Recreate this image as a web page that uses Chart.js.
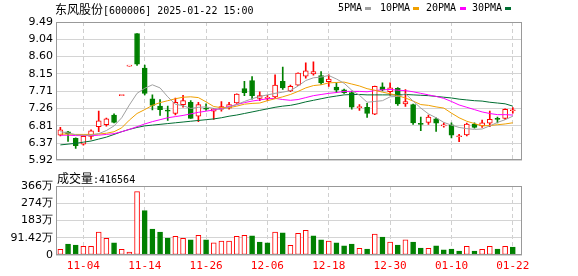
<!DOCTYPE html>
<html>
<head>
<meta charset="utf-8">
<script src="https://cdn.jsdelivr.net/npm/chart.js@4.4.1/dist/chart.umd.min.js"></script>
<style>
body { margin: 0; background: #fff; width: 578px; height: 276px; position: relative; overflow: hidden; }
#kline { position: absolute; left: 0; top: 0; }
#vol { position: absolute; left: 0; top: 170px; }
.t { position: absolute; white-space: nowrap; color: #000; display: flex; align-items: baseline; }
.cjk { font: 12px "Noto Sans CJK SC"; }
.asc { font: 10px "DejaVu Sans Mono"; }
.sw { position: absolute; width: 6px; height: 3px; }
</style>
</head>
<body>
<canvas id="kline" width="578" height="170"></canvas>
<canvas id="vol" width="578" height="106"></canvas>

<div class="t" style="left:55px;top:0px"><span class="cjk">东风股份</span><span class="asc">[600006] 2025-01-22 15:00</span></div>
<div class="t" style="left:338px;top:2px"><span class="asc">5PMA</span></div>
<div class="sw" style="left:365px;top:7px;background:#a0a0a0"></div>
<div class="t" style="left:380px;top:2px"><span class="asc">10PMA</span></div>
<div class="sw" style="left:413px;top:7px;background:#f0a000"></div>
<div class="t" style="left:426px;top:2px"><span class="asc">20PMA</span></div>
<div class="sw" style="left:460px;top:7px;background:#ff00ff"></div>
<div class="t" style="left:472px;top:2px"><span class="asc">30PMA</span></div>
<div class="sw" style="left:505px;top:7px;background:#006e32"></div>
<div class="t" style="left:57px;top:169px"><span class="cjk">成交量</span><span class="asc">:416564</span></div>

<script>
// 交易日 (2024-10-30 ~ 2025-01-22)
const dates = ['10-30','10-31','11-01','11-04','11-05','11-06','11-07','11-08','11-11','11-12',
  '11-13','11-14','11-15','11-18','11-19','11-20','11-21','11-22','11-25','11-26',
  '11-27','11-28','11-29','12-02','12-03','12-04','12-05','12-06','12-09','12-10',
  '12-11','12-12','12-13','12-16','12-17','12-18','12-19','12-20','12-23','12-24',
  '12-25','12-26','12-27','12-30','12-31','01-02','01-03','01-06','01-07','01-08',
  '01-09','01-10','01-13','01-14','01-15','01-16','01-17','01-20','01-21','01-22'];

const open  = [6.57,6.66,6.49,6.34,6.54,6.79,6.84,7.09,7.59,8.35,9.19,8.30,7.51,7.32,7.20,7.13,7.36,7.42,7.06,7.25,
               7.19,7.24,7.27,7.40,7.77,7.98,7.52,7.52,7.56,7.96,7.71,7.86,8.09,8.15,8.11,7.95,7.81,7.74,7.67,7.28,
               7.29,7.11,7.82,7.69,7.78,7.38,7.36,6.86,6.90,6.99,6.81,6.84,6.53,6.58,6.85,6.81,6.88,6.99,7.00,7.20];
const high  = [6.77,6.67,6.50,6.56,6.71,7.19,7.01,7.12,7.59,8.35,9.19,8.38,7.61,7.49,7.32,7.53,7.60,7.46,7.42,7.38,
               7.26,7.44,7.42,7.64,7.96,8.08,7.69,7.60,8.13,8.33,7.86,8.18,8.44,8.46,8.21,8.13,7.92,7.76,7.71,7.36,
               7.39,7.84,7.92,7.92,7.80,7.75,7.37,7.04,7.09,7.02,6.89,6.89,6.59,6.88,6.89,6.96,7.19,7.04,7.25,7.28];
const low   = [6.55,6.41,6.23,6.31,6.47,6.66,6.80,6.89,7.59,8.35,8.37,7.61,7.22,7.08,6.95,7.09,7.29,7.00,6.92,7.21,
               6.98,7.19,7.24,7.39,7.59,7.50,7.46,7.47,7.54,7.75,7.69,7.85,8.04,8.12,7.88,7.83,7.67,7.65,7.24,7.21,
               7.03,7.10,7.71,7.60,7.34,7.31,6.85,6.69,6.85,6.67,6.78,6.50,6.40,6.55,6.75,6.77,6.79,6.89,6.98,7.14];
const close = [6.71,6.60,6.30,6.54,6.68,6.94,6.99,6.90,7.59,8.35,8.40,7.65,7.34,7.23,7.19,7.42,7.46,7.00,7.36,7.24,
               7.25,7.31,7.36,7.63,7.67,7.59,7.59,7.55,7.86,7.79,7.83,8.17,8.23,8.21,7.92,8.02,7.73,7.67,7.29,7.30,
               7.13,7.83,7.74,7.79,7.38,7.44,6.89,6.85,7.04,6.88,6.83,6.57,6.55,6.86,6.77,6.89,6.98,6.98,7.24,7.22];

const ma5  = [6.66,6.63,6.58,6.57,6.57,6.61,6.69,6.81,7.02,7.35,7.65,7.78,7.87,7.79,7.56,7.37,7.33,7.26,7.29,7.30,
              7.26,7.23,7.30,7.36,7.44,7.51,7.57,7.61,7.65,7.68,7.72,7.84,7.98,8.05,8.07,8.11,8.02,7.91,7.73,7.60,
              7.42,7.44,7.46,7.56,7.57,7.64,7.45,7.27,7.12,7.02,6.90,6.83,6.77,6.74,6.72,6.73,6.81,6.90,6.97,7.06];
const ma10 = [6.60,6.60,6.59,6.59,6.59,6.60,6.62,6.66,6.76,6.96,7.13,7.23,7.34,7.41,7.46,7.51,7.55,7.56,7.54,7.43,
              7.31,7.28,7.28,7.32,7.37,7.39,7.40,7.46,7.51,7.56,7.62,7.70,7.79,7.85,7.87,7.92,7.93,7.94,7.89,7.84,
              7.77,7.73,7.68,7.64,7.59,7.53,7.45,7.36,7.34,7.30,7.27,7.14,7.02,6.93,6.87,6.81,6.82,6.84,6.86,6.89];
const ma20 = [6.57,6.57,6.56,6.56,6.56,6.57,6.59,6.61,6.66,6.72,6.79,6.86,6.92,6.97,7.02,7.05,7.08,7.12,7.16,7.19,
              7.22,7.26,7.31,7.36,7.41,7.45,7.48,7.51,7.52,7.49,7.47,7.49,7.54,7.59,7.62,7.65,7.67,7.70,7.70,7.70,
              7.69,7.72,7.74,7.75,7.73,7.72,7.69,7.65,7.61,7.57,7.52,7.44,7.35,7.29,7.23,7.17,7.13,7.10,7.10,7.09];
const ma30 = [6.32,6.34,6.36,6.39,6.42,6.47,6.52,6.59,6.66,6.72,6.77,6.81,6.83,6.85,6.87,6.89,6.91,6.93,6.95,6.97,
              6.99,7.02,7.06,7.09,7.13,7.17,7.21,7.25,7.29,7.32,7.34,7.38,7.43,7.47,7.51,7.55,7.58,7.61,7.62,7.62,
              7.61,7.61,7.61,7.61,7.61,7.62,7.61,7.60,7.59,7.57,7.55,7.53,7.50,7.48,7.46,7.45,7.42,7.40,7.38,7.32];

// 成交量 (万手), 1 = 红
const volume = [30,58,53,46,46,122,88,64,30,16,336,235,138,122,90,99,88,80,104,80,
                64,74,74,99,104,101,69,64,122,117,51,115,131,101,80,74,64,48,58,35,
                32,111,95,69,53,80,69,37,35,48,27,32,21,46,21,30,46,32,46,41.66];
const volUp = [1,0,0,1,1,1,1,0,1,1,1,0,0,0,0,1,1,0,1,0,
               1,1,1,1,1,0,0,0,1,0,1,1,1,0,0,1,0,0,0,1,
               0,1,0,1,0,1,0,0,1,0,0,0,0,1,0,1,1,0,1,0];

const dateTicks = [3, 11, 19, 27, 35, 43, 51, 59];
const priceTicks = [5.92, 6.36625, 6.8125, 7.25875, 7.705, 8.15125, 8.5975, 9.04375, 9.49];
const priceTickLabels = ['5.92','6.37','6.81','7.26','7.71','8.15','8.60','9.04','9.49'];
const volTicks = [0, 91.42, 182.84, 274.26, 365.68];
const volTickLabels = ['0','91.42万','183万','274万','366万'];

const RED = '#ff0000', GREEN = '#008000';
const up = close.map((c, i) => c >= open[i]);

const frame = {
    id: 'frame',
    afterDraw(chart) {
        const a = chart.chartArea, g = chart.ctx;
        g.save();
        g.strokeStyle = '#999';
        g.lineWidth = 1;
        g.strokeRect(Math.round(a.left) + 0.5, Math.round(a.top) + 0.5,
                     Math.round(a.right - a.left) - 1, Math.round(a.bottom - a.top) - 1);
        g.restore();
    }
};

function xAxis(showLabels) {
    return {
        type: 'linear',
        min: -0.57,
        max: 60.2,
        offset: false,
        afterBuildTicks: s => { s.ticks = dateTicks.map(v => ({ value: v })); },
        afterFit: s => { s.height = showLabels ? 21 : 0; },
        grid: { color: '#d0d0d0', drawTicks: false, offset: false, borderDash: [4, 3] },
        border: { display: false, dash: [4, 3] },
        ticks: {
            display: showLabels,
            autoSkip: false,
            maxRotation: 0,
            padding: 5,
            color: RED,
            font: { family: 'DejaVu Sans Mono', size: 11 },
            callback: v => dates[v]
        }
    };
}

function maLine(values, color) {
    return {
        type: 'line',
        data: values.map((v, i) => ({ x: i, y: v })),
        borderColor: color,
        borderWidth: 1,
        pointRadius: 0,
        tension: 0
    };
}

new Chart(document.getElementById('kline'), {
    type: 'bar',
    data: {
        datasets: [
            maLine(ma5, '#a0a0a0'),
            maLine(ma10, '#f0a000'),
            maLine(ma20, '#ff00ff'),
            maLine(ma30, '#006e32'),
            {
                // 实体
                data: open.map((o, i) => ({ x: i, y: [Math.min(o, close[i]), Math.max(o, close[i])] })),
                backgroundColor: up.map(u => u ? '#ffffff' : GREEN),
                borderColor: up.map(u => u ? RED : GREEN),
                borderWidth: 1,
                borderSkipped: false,
                grouped: false,
                barThickness: 5,
                minBarLength: 1
            },
            {
                // 影线
                data: low.map((l, i) => ({ x: i, y: [l, high[i]] })),
                backgroundColor: up.map(u => u ? RED : GREEN),
                borderWidth: 0,
                grouped: false,
                barThickness: 1
            }
        ]
    },
    options: {
        responsive: false,
        animation: false,
        events: [],
        layout: { padding: { left: 0, right: 56, top: 22, bottom: 5 } },
        plugins: { legend: { display: false }, tooltip: { enabled: false } },
        scales: {
            x: xAxis(false),
            y: {
                min: 5.92,
                max: 9.49,
                afterBuildTicks: s => { s.ticks = priceTicks.map(v => ({ value: v })); },
                afterFit: s => { s.width = 56; },
                grid: { color: '#d4d4d4', drawTicks: false },
                border: { display: false },
                ticks: {
                    padding: 3,
                    color: '#000',
                    font: { family: 'DejaVu Sans', size: 11 },
                    callback: (v, i) => priceTickLabels[i]
                }
            }
        }
    },
    plugins: [frame]
});

new Chart(document.getElementById('vol'), {
    type: 'bar',
    data: {
        datasets: [{
            data: volume.map((v, i) => ({ x: i, y: v })),
            backgroundColor: volUp.map(u => u ? '#ffffff' : GREEN),
            borderColor: volUp.map(u => u ? RED : GREEN),
            borderWidth: 1,
            borderSkipped: false,
            barThickness: 5
        }]
    },
    options: {
        responsive: false,
        animation: false,
        events: [],
        layout: { padding: { left: 0, right: 56, top: 16, bottom: 0 } },
        plugins: { legend: { display: false }, tooltip: { enabled: false } },
        scales: {
            x: xAxis(true),
            y: {
                min: 0,
                max: 365.68,
                afterBuildTicks: s => { s.ticks = volTicks.map(v => ({ value: v })); },
                afterFit: s => { s.width = 56; },
                grid: { color: '#d4d4d4', drawTicks: false },
                border: { display: false },
                ticks: {
                    padding: 3,
                    color: '#000',
                    font: { family: 'DejaVu Sans', size: 11 },
                    callback: (v, i) => volTickLabels[i]
                }
            }
        }
    },
    plugins: [frame]
});
</script>
</body>
</html>
